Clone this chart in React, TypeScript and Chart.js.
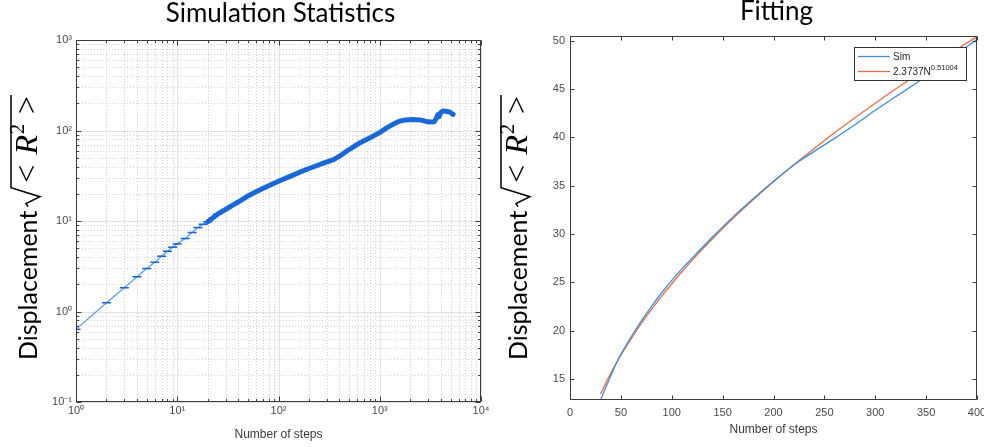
import React, { useEffect, useRef } from 'react';
import { Chart, registerables } from 'chart.js';

Chart.register(...registerables);

// ---------- Left panel: Simulation Statistics (log-log) ----------
const logSteps = [1, 2, 3, 4, 5, 6, 7, 8, 9, 10, 12, 14, 16, 18, 20, 25, 30, 35, 40, 50, 60, 70, 85, 100, 130, 160, 200, 260, 350, 400, 470, 550, 640, 750, 860, 1000, 1170, 1350, 1580, 1800, 2100, 2500, 2870, 3200, 3450, 3600, 3750, 3850, 4000, 4200, 4500, 4900, 5300];
const logDisp = [0.635, 1.25, 1.83, 2.42, 2.98, 3.5, 4.08, 4.63, 5.13, 5.59, 6.4, 7.45, 8.45, 9.2, 9.8, 11.9, 13.4, 14.9, 16.2, 18.9, 21.0, 22.8, 25.3, 27.5, 31.1, 34.4, 38.0, 42.4, 47.6, 52.0, 59.0, 66, 73.3, 80, 86.7, 95, 107, 117, 127, 131, 132, 131, 126, 124, 125, 135, 150, 142, 158, 164, 163, 160, 151];
const logXRange = [1, 10000];
const logYRange = [0.1, 1000];

// ---------- Right panel: Fitting (linear) ----------
const fitSteps = [30, 35, 40, 45, 50, 60, 70, 80, 90, 100, 110, 120, 140, 160, 180, 200, 220, 240, 260, 280, 300, 320, 340, 360, 380, 400];
const simDisp = [12.8, 14.1, 15.3, 16.5, 17.55, 19.35, 21.0, 22.5, 23.9, 25.2, 26.4, 27.5, 29.7, 31.75, 33.65, 35.45, 37.15, 38.55, 39.9, 41.3, 42.8, 44.2, 45.6, 47.0, 48.6, 50.15];
const fitDisp = [13.45, 14.55, 15.58, 16.55, 17.46, 19.16, 20.73, 22.18, 23.56, 24.86, 26.1, 27.28, 29.51, 31.6, 33.55, 35.41, 37.17, 38.86, 40.48, 42.04, 43.54, 45.0, 46.41, 47.78, 49.11, 50.42];
const linXRange = [0, 400];
const linYRange = [12.83, 50.49];
const linXStep = 50;
const linYStep = 5;

// ---------- Texts ----------
const leftTitle = 'Simulation Statistics';
const rightTitle = 'Fitting';
const xAxisTitle = 'Number of steps';
const yAxisWord = 'Displacement';
const yAxisVar = 'R';
const yAxisPow = '2';
const simLabel = 'Sim';
const fitCoef = '2.3737N';
const fitExp = '0.51004';

const SIM_BLUE = '#3a8ee0';
const FIT_ORANGE = '#ea6d47';
const LOG_BLUE = '#1a68d8';
const LOG_BLUE_THIN = '#5d9de6';
const AXIS = '#3c3c3c';
const TICK_TEXT = '#4a4a4a';

const SUP: Record<string, string> = { '-': '⁻', '0': '⁰', '1': '¹', '2': '²', '3': '³', '4': '⁴', '5': '⁵', '6': '⁶', '7': '⁷', '8': '⁸', '9': '⁹' };
const isDecade = (v: number) => Math.abs(Math.log10(v) - Math.round(Math.log10(v))) < 1e-9;
const decadeLabel = (v: number) => '10' + String(Math.round(Math.log10(v))).split('').map((c) => SUP[c]).join('');

function logValues(min: number, max: number) {
  const out: { v: number; major: boolean }[] = [];
  for (let d = Math.floor(Math.log10(min)); d <= Math.ceil(Math.log10(max)); d++) {
    for (let m = 1; m <= 9; m++) {
      const v = m * Math.pow(10, d);
      if (v >= min * 0.9999 && v <= max * 1.0001) out.push({ v, major: m === 1 });
    }
  }
  return out;
}

const framePlugin = {
  id: 'frame',
  beforeDatasetsDraw(chart: any, _a: any, opts: any) {
    if (!opts.logGrid) return;
    const { ctx, chartArea: a } = chart;
    const xs = chart.scales.x;
    const ys = chart.scales.y;
    ctx.save();
    ctx.lineWidth = 1;
    const lines = (vals: any[], vertical: boolean) => {
      for (const { v, major } of vals) {
        const p = Math.round(vertical ? xs.getPixelForValue(v) : ys.getPixelForValue(v)) + 0.5;
        ctx.beginPath();
        if (major) {
          ctx.setLineDash([]);
          ctx.strokeStyle = '#e2e2e2';
        } else {
          ctx.setLineDash([1, 2]);
          ctx.strokeStyle = '#d2d2d2';
        }
        if (vertical) {
          ctx.moveTo(p, a.top);
          ctx.lineTo(p, a.bottom);
        } else {
          ctx.moveTo(a.left, p);
          ctx.lineTo(a.right, p);
        }
        ctx.stroke();
      }
    };
    lines(logValues(xs.min, xs.max), true);
    lines(logValues(ys.min, ys.max), false);
    ctx.restore();
  },
  afterDatasetsDraw(chart: any, _a: any, opts: any) {
    const { ctx, chartArea: a } = chart;
    const xs = chart.scales.x;
    const ys = chart.scales.y;
    ctx.save();
    ctx.setLineDash([]);
    ctx.strokeStyle = AXIS;
    ctx.lineWidth = 1;
    let xv: any[];
    let yv: any[];
    if (opts.logGrid) {
      xv = logValues(xs.min, xs.max);
      yv = logValues(ys.min, ys.max);
    } else {
      xv = xs.ticks.map((t: any) => ({ v: t.value, major: true }));
      yv = ys.ticks.map((t: any) => ({ v: t.value, major: true }));
    }
    const L = Math.round(a.left) + 0.5;
    const R = Math.round(a.right) - 0.5;
    const T = Math.round(a.top) + 0.5;
    const B = Math.round(a.bottom) - 0.5;
    ctx.beginPath();
    for (const { v, major } of xv) {
      const p = Math.round(xs.getPixelForValue(v)) + 0.5;
      const len = major ? opts.majorLen : opts.minorLen;
      ctx.moveTo(p, B);
      ctx.lineTo(p, B - len);
      ctx.moveTo(p, T);
      ctx.lineTo(p, T + len);
    }
    for (const { v, major } of yv) {
      const p = Math.round(ys.getPixelForValue(v)) + 0.5;
      const len = major ? opts.majorLen : opts.minorLen;
      ctx.moveTo(L, p);
      ctx.lineTo(L + len, p);
      ctx.moveTo(R, p);
      ctx.lineTo(R - len, p);
    }
    ctx.stroke();
    ctx.strokeRect(L, T, R - L, B - T);
    ctx.restore();
  },
};

const panelTitlePlugin = {
  id: 'panelTitle',
  afterDraw(chart: any, _a: any, opts: any) {
    const { ctx, chartArea: a } = chart;
    ctx.save();
    ctx.font = '26px Lato';
    ctx.fillStyle = '#000';
    ctx.textAlign = 'center';
    ctx.textBaseline = 'middle';
    ctx.fillText(opts.text, (a.left + a.right) / 2 + (opts.dx || 0), opts.y);
    ctx.restore();
  },
};

const yTitlePlugin = {
  id: 'yTitle',
  afterDraw(chart: any, _a: any, opts: any) {
    const ctx = chart.ctx;
    ctx.save();
    ctx.translate(opts.x, opts.y);
    ctx.rotate(-Math.PI / 2);
    ctx.fillStyle = '#000';
    ctx.strokeStyle = '#000';
    ctx.textAlign = 'left';
    ctx.textBaseline = 'alphabetic';
    ctx.font = '25px Lato';
    ctx.fillText(yAxisWord, 0, 0);
    let cx = ctx.measureText(yAxisWord).width + 4;
    const top = -26;
    ctx.lineWidth = 1.5;
    ctx.beginPath();
    ctx.moveTo(cx, -9);
    ctx.lineTo(cx + 3, -11);
    ctx.lineTo(cx + 10, 3);
    ctx.lineTo(cx + 19, top);
    cx += 24;
    ctx.font = '32px "Liberation Serif"';
    ctx.fillText('<', cx, 0);
    cx += ctx.measureText('<').width + 10;
    ctx.font = 'italic 32px "Liberation Serif"';
    ctx.fillText(yAxisVar, cx, 0);
    cx += ctx.measureText(yAxisVar).width + 1;
    ctx.font = '20px "Liberation Serif"';
    ctx.fillText(yAxisPow, cx, -13);
    cx += ctx.measureText(yAxisPow).width + 10;
    ctx.font = '32px "Liberation Serif"';
    ctx.fillText('>', cx, 0);
    cx += ctx.measureText('>').width + 1;
    ctx.lineTo(cx, top);
    ctx.stroke();
    ctx.restore();
  },
};

const fitLegendPlugin = {
  id: 'fitLegend',
  afterDraw(chart: any, _a: any, opts: any) {
    if (!opts.items) return;
    const { ctx, chartArea: a } = chart;
    const bx = Math.round(a.right - 123);
    const by = Math.round(a.top + 11);
    const bw = 112;
    const bh = 33;
    ctx.save();
    ctx.fillStyle = '#fff';
    ctx.fillRect(bx, by, bw, bh);
    ctx.strokeStyle = '#333';
    ctx.lineWidth = 1;
    ctx.strokeRect(bx + 0.5, by + 0.5, bw, bh);
    opts.items.forEach((it: any, i: number) => {
      const ly = by + 9.5 + i * 15;
      ctx.strokeStyle = it.color;
      ctx.lineWidth = 1.3;
      ctx.beginPath();
      ctx.moveTo(bx + 4, ly);
      ctx.lineTo(bx + 36, ly);
      ctx.stroke();
      ctx.fillStyle = '#262626';
      ctx.textBaseline = 'middle';
      ctx.textAlign = 'left';
      ctx.font = '10px "Liberation Sans"';
      ctx.fillText(it.text, bx + 39, ly + 1);
      if (it.exp) {
        const w = ctx.measureText(it.text).width;
        ctx.font = '7.5px "Liberation Sans"';
        ctx.fillText(it.exp, bx + 39 + w, ly - 3.5);
      }
    });
    ctx.restore();
  },
};

const tickFont = { family: '"Liberation Sans", Arial, sans-serif', size: 11 };
const axisTitleFont = { family: '"Liberation Sans", Arial, sans-serif', size: 12 };

const fixX = (h: number) => (s: any) => {
  s.height = h;
  s.paddingLeft = 0;
  s.paddingRight = 0;
};
const fixY = (w: number) => (s: any) => {
  s.width = w;
  s.paddingTop = 0;
  s.paddingBottom = 0;
};

function leftConfig(): any {
  return {
    type: 'line',
    data: {
      datasets: [
        {
          data: logSteps.map((x, i) => ({ x, y: logDisp[i] })),
          borderColor: LOG_BLUE,
          borderWidth: 1.2,
          borderCapStyle: 'round',
          borderJoinStyle: 'round',
          tension: 0,
          segment: {
            borderWidth: (c: any) => (c.p0.parsed.x >= 20 ? 5 : 1.2),
            borderColor: (c: any) => (c.p0.parsed.x >= 20 ? LOG_BLUE : LOG_BLUE_THIN),
          },
          pointStyle: 'line',
          pointRadius: (c: any) => (c.parsed && c.parsed.x <= 25 ? 4.5 : 0),
          pointBorderColor: LOG_BLUE,
          pointBorderWidth: 1.6,
          pointBackgroundColor: LOG_BLUE,
        },
      ],
    },
    options: {
      responsive: false,
      animation: false,
      devicePixelRatio: 1,
      layout: { padding: { top: 40, right: 9, bottom: 0, left: 0 } },
      plugins: {
        legend: { display: false },
        tooltip: { enabled: false },
        title: { display: false },
        frame: { logGrid: true, majorLen: 5, minorLen: 2.5 },
        panelTitle: { text: leftTitle, y: 14, dx: 2 },
        yTitle: { x: 37, y: 360 },
        fitLegend: {},
      },
      scales: {
        x: {
          type: 'logarithmic',
          min: logXRange[0],
          max: logXRange[1],
          grid: { display: false, drawTicks: false },
          border: { display: false },
          ticks: {
            autoSkip: false,
            maxRotation: 0,
            padding: 2,
            font: tickFont,
            color: TICK_TEXT,
            callback: (v: any) => (isDecade(Number(v)) ? decadeLabel(Number(v)) : ''),
          },
          title: { display: true, text: xAxisTitle, font: axisTitleFont, color: '#3a3a3a', padding: { top: 0, bottom: 5 } },
          afterFit: fixX(45),
        },
        y: {
          type: 'logarithmic',
          min: logYRange[0],
          max: logYRange[1],
          grid: { display: false, drawTicks: false },
          border: { display: false },
          ticks: {
            autoSkip: false,
            padding: 4,
            font: tickFont,
            color: TICK_TEXT,
            callback: (v: any) => (isDecade(Number(v)) ? decadeLabel(Number(v)) : ''),
          },
          afterFit: fixY(76),
        },
      },
    },
    plugins: [framePlugin, panelTitlePlugin, yTitlePlugin, fitLegendPlugin],
  };
}

function rightConfig(): any {
  return {
    type: 'line',
    data: {
      datasets: [
        {
          label: simLabel,
          data: fitSteps.map((x, i) => ({ x, y: simDisp[i] })),
          borderColor: SIM_BLUE,
          borderWidth: 1.3,
          pointRadius: 0,
          cubicInterpolationMode: 'monotone',
        },
        {
          label: fitCoef + '^' + fitExp,
          data: fitSteps.map((x, i) => ({ x, y: fitDisp[i] })),
          borderColor: FIT_ORANGE,
          borderWidth: 1.3,
          pointRadius: 0,
          cubicInterpolationMode: 'monotone',
        },
      ],
    },
    options: {
      responsive: false,
      animation: false,
      devicePixelRatio: 1,
      layout: { padding: { top: 36, right: 7, bottom: 0, left: 0 } },
      plugins: {
        legend: { display: false },
        tooltip: { enabled: false },
        title: { display: false },
        frame: { logGrid: false, majorLen: 4, minorLen: 4 },
        panelTitle: { text: rightTitle, y: 12, dx: 3 },
        yTitle: { x: 37, y: 360 },
        fitLegend: {
          items: [
            { text: simLabel, color: SIM_BLUE },
            { text: fitCoef, exp: fitExp, color: FIT_ORANGE },
          ],
        },
      },
      scales: {
        x: {
          type: 'linear',
          min: linXRange[0],
          max: linXRange[1],
          grid: { display: false, drawTicks: false },
          border: { display: false },
          ticks: { stepSize: linXStep, includeBounds: false, autoSkip: false, maxRotation: 0, padding: 6, font: tickFont, color: TICK_TEXT },
          title: { display: true, text: xAxisTitle, font: axisTitleFont, color: '#3a3a3a', padding: { top: 0, bottom: 10 } },
          afterFit: fixX(47),
        },
        y: {
          type: 'linear',
          min: linYRange[0],
          max: linYRange[1],
          grid: { display: false, drawTicks: false },
          border: { display: false },
          ticks: { stepSize: linYStep, includeBounds: false, autoSkip: false, padding: 5, font: tickFont, color: TICK_TEXT },
          afterFit: fixY(80),
        },
      },
    },
    plugins: [framePlugin, panelTitlePlugin, yTitlePlugin, fitLegendPlugin],
  };
}

export default function App() {
  const leftRef = useRef<HTMLCanvasElement>(null);
  const rightRef = useRef<HTMLCanvasElement>(null);
  useEffect(() => {
    const c1 = new Chart(leftRef.current as HTMLCanvasElement, leftConfig());
    const c2 = new Chart(rightRef.current as HTMLCanvasElement, rightConfig());
    return () => {
      c1.destroy();
      c2.destroy();
    };
  }, []);
  return (
    <div style={{ position: 'absolute', left: 0, top: 0, width: 984, height: 447, background: '#fff', overflow: 'hidden' }}>
      <canvas ref={leftRef} width={490} height={447} style={{ position: 'absolute', left: 0, top: 0, width: 490, height: 447 }} />
      <canvas ref={rightRef} width={494} height={447} style={{ position: 'absolute', left: 490, top: 0, width: 494, height: 447 }} />
    </div>
  );
}
